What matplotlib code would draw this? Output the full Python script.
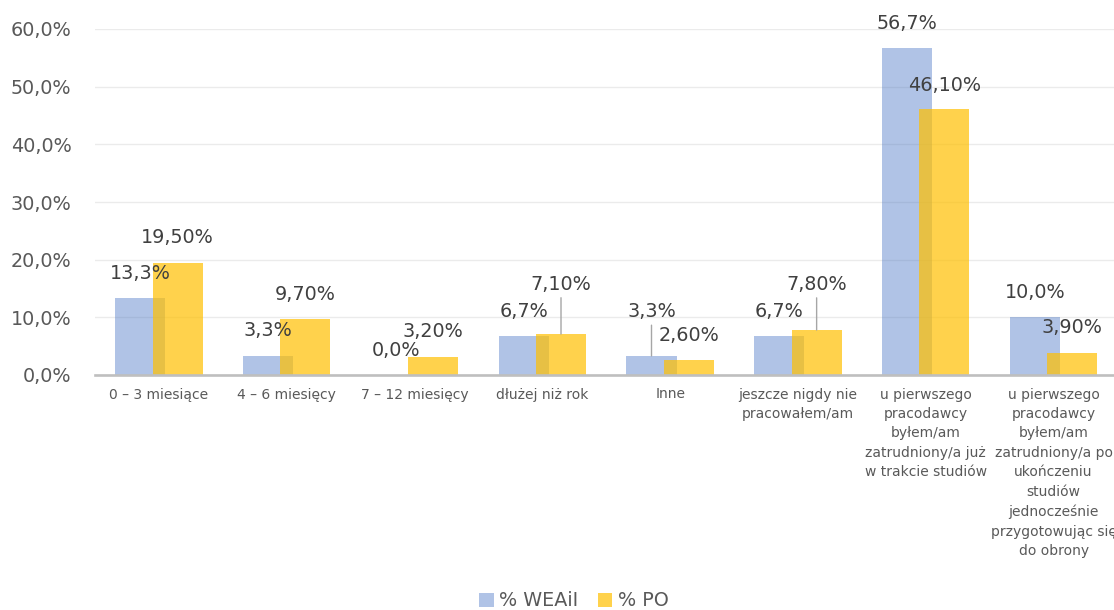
import matplotlib
matplotlib.use("Agg")
import matplotlib.pyplot as plt
import numpy as np

categories = [
    "0 – 3 miesiące",
    "4 – 6 miesięcy",
    "7 – 12 miesięcy",
    "dłużej niż rok",
    "Inne",
    "jeszcze nigdy nie\npracowałem/am",
    "u pierwszego\npracodawcy\nbyłem/am\nzatrudniony/a już\nw trakcie studiów",
    "u pierwszego\npracodawcy\nbyłem/am\nzatrudniony/a po\nukończeniu\nstudiów\njednocześnie\nprzygotowując się\ndo obrony",
]
weaii = [13.3, 3.3, 0.0, 6.7, 3.3, 6.7, 56.7, 10.0]
po = [19.5, 9.7, 3.2, 7.1, 2.6, 7.8, 46.1, 3.9]
weaii_labels = ["13,3%", "3,3%", "0,0%", "6,7%", "3,3%", "6,7%", "56,7%", "10,0%"]
po_labels = ["19,50%", "9,70%", "3,20%", "7,10%", "2,60%", "7,80%", "46,10%", "3,90%"]
series_names = ["% WEAiI", "% PO"]
yticks = [0, 10, 20, 30, 40, 50, 60]

# label offsets above bar top (points) and leader-line flags (style only)
weaii_off = [18, 18, 18, 18, 32, 18, 18, 18]
weaii_leader = [False, False, False, False, True, False, False, False]
po_off = [18, 18, 18, 36, 18, 33, 17, 18]
po_leader = [False, False, False, True, False, True, False, False]

TXT = "#595959"
LBL = "#404040"

fig = plt.figure(figsize=(11.14, 6.10), dpi=100)
ax = fig.add_axes([95 / 1114, (610 - 375) / 610, (1117.5 - 95) / 1114, (375 - 29) / 610])

x = np.arange(len(categories))
w = 0.392
off = 0.146
ax.bar(x - off, weaii, width=w, color="#4472C4", alpha=0.42, label=series_names[0], zorder=2)
ax.bar(x + off, po, width=w, color="#FFC000", alpha=0.70, label=series_names[1], zorder=3)

ax.set_xlim(-0.5, len(categories) - 0.5)
ax.set_ylim(0, 60)
ax.set_yticks(yticks)
ax.set_yticklabels([f"{v:.1f}".replace(".", ",") + "%" for v in yticks])
ax.set_xticks(x)
ax.set_xticklabels(categories, fontsize=10, color=TXT, linespacing=1.5, va="top")
ax.tick_params(axis="both", length=0)
ax.tick_params(axis="y", pad=17, labelsize=13.8, labelcolor=TXT)
ax.tick_params(axis="x", pad=9)
ax.grid(axis="y", color="#EBEBEB", linewidth=1.0, zorder=0)
ax.set_axisbelow(True)
for s in ["top", "right", "left"]:
    ax.spines[s].set_visible(False)
ax.spines["bottom"].set_color("#BFBFBF")
ax.spines["bottom"].set_linewidth(1.9)
ax.spines["bottom"].set_zorder(4)


def add_labels(xs, vals, labels, offs, leaders):
    for xi, v, lab, o, ld in zip(xs, vals, labels, offs, leaders):
        kw = {}
        if ld:
            kw["arrowprops"] = dict(arrowstyle="-", color="#A6A6A6", lw=1.0,
                                    shrinkA=1, shrinkB=0)
        ax.annotate(lab, xy=(xi, v), xytext=(0, o), textcoords="offset points",
                    ha="center", va="center", fontsize=13.8, color=LBL,
                    annotation_clip=False, zorder=5, **kw)


add_labels(x - off, weaii, weaii_labels, weaii_off, weaii_leader)
add_labels(x + off, po, po_labels, po_off, po_leader)

leg = fig.legend(loc="center", bbox_to_anchor=(574 / 1114, 1 - 601 / 610), ncol=2,
                 frameon=False, fontsize=13.8, handlelength=0.75, handleheight=0.75,
                 handletextpad=0.3, columnspacing=1.0, labelcolor=TXT)

fig.savefig("out.png", dpi=100)
